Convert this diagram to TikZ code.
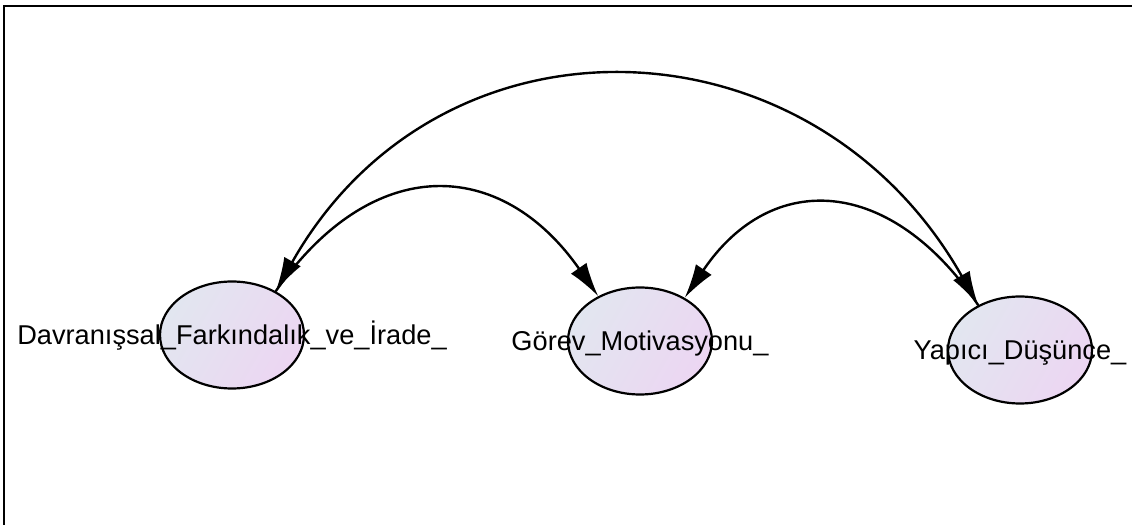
\documentclass[tikz,border=0pt]{standalone}
\usepackage{fontspec}
\setmainfont{Liberation Sans}
\usetikzlibrary{arrows.meta,shapes.geometric}
\definecolor{varleft}{HTML}{E2E6F0}
\definecolor{varright}{HTML}{ECD6F2}

\begin{document}
\begin{tikzpicture}[x=0.5pt,y=0.5pt,
  latent/.style={ellipse,draw,line width=1.1pt,minimum width=72pt,minimum height=53.5pt,
    inner sep=0pt,left color=varleft,right color=varright,shading angle=60},
  varname/.style={font=\fontsize{13.6}{16}\selectfont,inner sep=0pt,text height=9.7pt,text depth=0pt},
  cov/.style={line width=1.2pt,-{Latex[length=17pt,width=9.5pt]}},
  bicov/.style={line width=1.2pt,{Latex[length=17pt,width=9.5pt]}-{Latex[length=17pt,width=9.5pt]}}]
\useasboundingbox (0,0) rectangle (1132,525);
\draw[line width=1pt] (4,0) -- (4,519) -- (1132,519);
\node[latent] (dav) at (232,190) {};
\node[latent] (gor) at (640,184) {};
\node[latent] (yap) at (1020,175) {};
\draw[cov] (dav.45) .. controls +(97,139) and +(-97,139) .. (gor.133);
\draw[cov] (yap.133) .. controls +(-87,129) and +(87,129) .. (gor.44);
\draw[bicov] (dav.45) .. controls +(165,292) and +(-165,292) .. (yap.133);
\node[varname] (davtxt) at (dav.center) {Davranışsal\_Farkındalık\_ve\_İrade\_};
\node[varname] (gortxt) at (gor.center) {Görev\_Motivasyonu\_};
\node[varname] (yaptxt) at (yap.center) {Yapıcı\_Düşünce\_};
\end{tikzpicture}
\end{document}
